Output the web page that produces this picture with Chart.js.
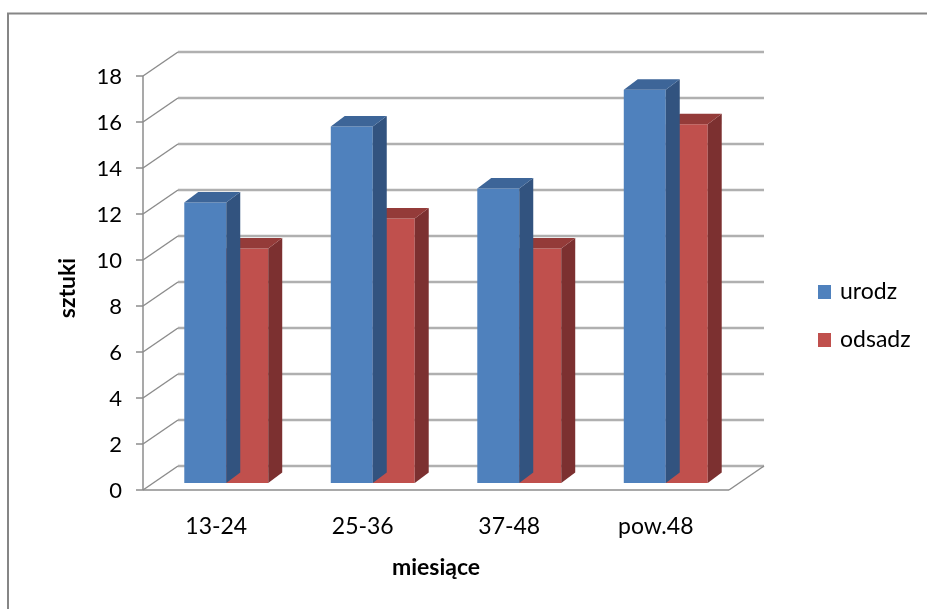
<!DOCTYPE html>
<html>
<head>
<meta charset="utf-8">
<script src="https://cdn.jsdelivr.net/npm/chart.js@4.4.0/dist/chart.umd.min.js"></script>
<style>
  html, body { margin: 0; padding: 0; background: #fff; }
  #wrap { width: 927px; height: 609px; }
</style>
</head>
<body>
<div id="wrap"><canvas id="chart" width="927" height="609"></canvas></div>
<script>
const categories = ["13-24", "25-36", "37-48", "pow.48"];
const urodz = [12.2, 15.5, 12.8, 17.1];
const odsadz = [10.2, 11.5, 10.2, 15.6];
const yTicks = [0, 2, 4, 6, 8, 10, 12, 14, 16, 18];
const xTitle = "miesiące";
const yTitle = "sztuki";

// offsets of the 3D planes, relative to the bar fronts
const FRONT = { dx: -10, dy: 7 };
const BACK = { dx: 25, dy: -17 };
const DEPTH = { dx: 14, dy: -10.5 };

const shades = [
  { side: "#32537f", top: "#3d6598" },
  { side: "#7c3030", top: "#943b39" }
];

const FONT = "Lato, 'Open Sans', sans-serif";

function line(ctx, x1, y1, x2, y2) {
  ctx.beginPath();
  ctx.moveTo(x1, y1);
  ctx.lineTo(x2, y2);
  ctx.stroke();
}

function poly(ctx, pts, color) {
  ctx.beginPath();
  ctx.moveTo(pts[0][0], pts[0][1]);
  for (let i = 1; i < pts.length; i++) ctx.lineTo(pts[i][0], pts[i][1]);
  ctx.closePath();
  ctx.fillStyle = color;
  ctx.fill();
}

const walls3d = {
  id: "walls3d",
  beforeDraw(chart) {
    const { ctx } = chart;
    ctx.save();
    ctx.fillStyle = "#fff";
    ctx.fillRect(0, 0, chart.width, chart.height);
    ctx.strokeStyle = "#868686";
    ctx.lineWidth = 2;
    ctx.strokeRect(8, 13.5, 1000, 1000);
    ctx.restore();
  },
  beforeDatasetsDraw(chart) {
    const { ctx, chartArea: a, scales: { y } } = chart;
    const y0 = y.getPixelForValue(0);
    ctx.save();

    // back wall gridlines
    ctx.strokeStyle = "#b0b0b0";
    ctx.lineWidth = 2.5;
    yTicks.forEach(v => {
      const py = y.getPixelForValue(v) + BACK.dy;
      line(ctx, a.left + BACK.dx, py, a.right + BACK.dx, py);
    });

    // side wall diagonals + tick marks
    ctx.strokeStyle = "#8c8c8c";
    ctx.lineWidth = 1.5;
    yTicks.forEach(v => {
      const py = y.getPixelForValue(v);
      line(ctx, a.left + FRONT.dx, py + FRONT.dy, a.left + BACK.dx, py + BACK.dy);
      line(ctx, a.left + FRONT.dx - 7, py + FRONT.dy, a.left + FRONT.dx, py + FRONT.dy);
    });

    // front axis
    line(ctx, a.left + FRONT.dx, y.getPixelForValue(18) + FRONT.dy, a.left + FRONT.dx, y0 + FRONT.dy);

    // floor front and right edge
    line(ctx, a.left + FRONT.dx, y0 + FRONT.dy, a.right + FRONT.dx, y0 + FRONT.dy);
    line(ctx, a.right + FRONT.dx, y0 + FRONT.dy, a.right + BACK.dx, y0 + BACK.dy);

    // tick labels
    ctx.fillStyle = "#000";
    ctx.font = "22px " + FONT;
    ctx.textAlign = "right";
    ctx.textBaseline = "middle";
    yTicks.forEach(v => {
      ctx.fillText(String(v), a.left + FRONT.dx - 21, y.getPixelForValue(v) + FRONT.dy + 1);
    });

    const x = chart.scales.x;
    ctx.textAlign = "center";
    ctx.font = "23px " + FONT;
    categories.forEach((c, i) => {
      ctx.fillText(c, x.getPixelForValue(i) + FRONT.dx, 527);
    });

    // axis titles
    ctx.font = "bold 23px " + FONT;
    ctx.fillText(xTitle, (a.left + a.right) / 2 + FRONT.dx, 568);
    ctx.save();
    ctx.translate(68, 288);
    ctx.rotate(-Math.PI / 2);
    ctx.fillText(yTitle, 0, 0);
    ctx.restore();

    // legend
    ctx.font = "23px " + FONT;
    ctx.textAlign = "left";
    chart.data.datasets.forEach((ds, i) => {
      const ly = 292 + i * 48;
      ctx.fillStyle = ds.backgroundColor;
      ctx.fillRect(818, ly - 7, 13, 14);
      ctx.fillStyle = "#000";
      ctx.fillText(ds.label, 840, ly);
    });

    ctx.restore();
  },
  afterDatasetDraw(chart, args) {
    const { ctx } = chart;
    const sh = shades[args.index];
    ctx.save();
    args.meta.data.forEach(bar => {
      const l = bar.x - bar.width / 2;
      const r = bar.x + bar.width / 2;
      const t = bar.y;
      const b = bar.base;
      poly(ctx, [[r, t], [r + DEPTH.dx, t + DEPTH.dy], [r + DEPTH.dx, b + DEPTH.dy], [r, b]], sh.side);
      poly(ctx, [[l, t], [l + DEPTH.dx, t + DEPTH.dy], [r + DEPTH.dx, t + DEPTH.dy], [r, t]], sh.top);
    });
    ctx.restore();
  }
};

new Chart(document.getElementById("chart"), {
  type: "bar",
  data: {
    labels: categories,
    datasets: [
      { label: "urodz", data: urodz, backgroundColor: "#4f81bd" },
      { label: "odsadz", data: odsadz, backgroundColor: "#c0504d" }
    ]
  },
  options: {
    responsive: false,
    animation: false,
    devicePixelRatio: 1,
    layout: { padding: { left: 153, right: 188, top: 69, bottom: 126 } },
    datasets: { bar: { categoryPercentage: 0.573, barPercentage: 1, borderWidth: 0 } },
    plugins: { legend: { display: false }, tooltip: { enabled: false } },
    scales: {
      x: { display: false },
      y: { display: false, min: 0, max: 18 }
    }
  },
  plugins: [walls3d]
});
</script>
</body>
</html>
